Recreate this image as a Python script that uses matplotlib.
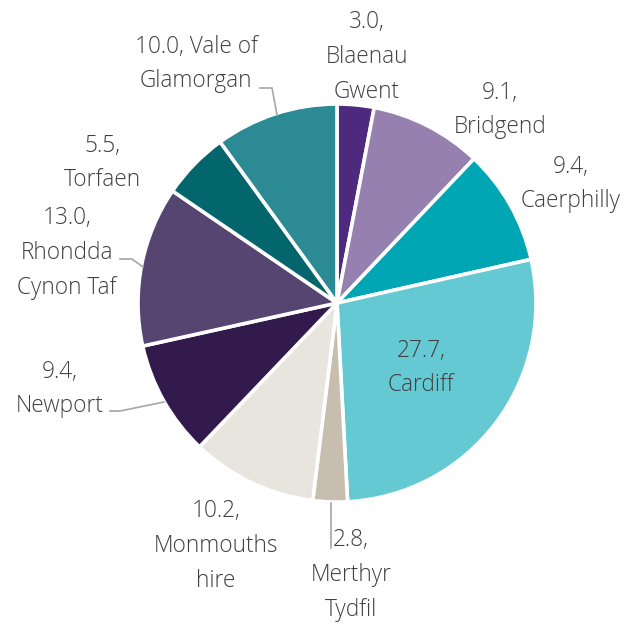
import matplotlib
matplotlib.use("Agg")
import matplotlib.pyplot as plt

# Share of population by local authority (%)
areas = ["Blaenau Gwent", "Bridgend", "Caerphilly", "Cardiff", "Merthyr Tydfil",
         "Monmouthshire", "Newport", "Rhondda Cynon Taf", "Torfaen", "Vale of Glamorgan"]
shares = [3.0, 9.1, 9.4, 27.7, 2.8, 10.2, 9.4, 13.0, 5.5, 10.0]
label_names = ["Blaenau\nGwent", "Bridgend", "Caerphilly", "Cardiff", "Merthyr\nTydfil",
               "Monmouths\nhire", "Newport", "Rhondda\nCynon Taf", "Torfaen", "Vale of\nGlamorgan"]

colors = ["#4E2A7E", "#9580B0", "#00A6B4", "#65C9D3", "#C8BEB0",
          "#E8E5DF", "#321B4C", "#564570", "#03666C", "#2B8A93"]

W, H = 629, 624
fig = plt.figure(figsize=(W / 100, H / 100), dpi=100)
ax = fig.add_axes([0, 0, 1, 1])

def py(y):
    # convert a top-down pixel row into axis units
    return H - y

explode = [0.02 if a == "Cardiff" else 0 for a in areas]
ax.pie(shares, colors=colors, startangle=90, counterclock=False,
       center=(337, py(303)), radius=199, explode=explode,
       wedgeprops=dict(edgecolor="white", linewidth=2.6), frame=True)
ax.set_xlim(0, W)
ax.set_ylim(0, H)
ax.set_aspect("equal")
ax.axis("off")

# label block centres (pixel layout)
label_pos = [(367, 57), (500, 110), (571, 184), (421, 368), (351, 575),
             (216, 546), (60, 389), (67, 253), (102, 163), (196, 64)]

txt_kw = dict(ha="center", va="center", fontsize=16.3, color="#404040",
              family=["Open Sans", "DejaVu Sans"], fontweight="light",
              linespacing=1.6)
for name, val, (x, y) in zip(label_names, shares, label_pos):
    if name == "Vale of\nGlamorgan":
        s = f"{val:.1f}, Vale of\nGlamorgan"
    else:
        s = f"{val:.1f},\n{name}"
    ax.text(x, py(y), s, **txt_kw)

# leader lines
leaders = [
    [(331, 503), (331, 548)],
    [(110, 411), (120, 411), (164, 402)],
    [(120, 259), (132, 259), (143, 267)],
    [(260, 88), (272, 88), (277, 115)],
]
for pts in leaders:
    xs = [p[0] for p in pts]
    ys = [py(p[1]) for p in pts]
    ax.plot(xs, ys, color="#A6A6A6", lw=1.2, solid_joinstyle="miter")

fig.savefig("out.png", dpi=100, facecolor="white")
